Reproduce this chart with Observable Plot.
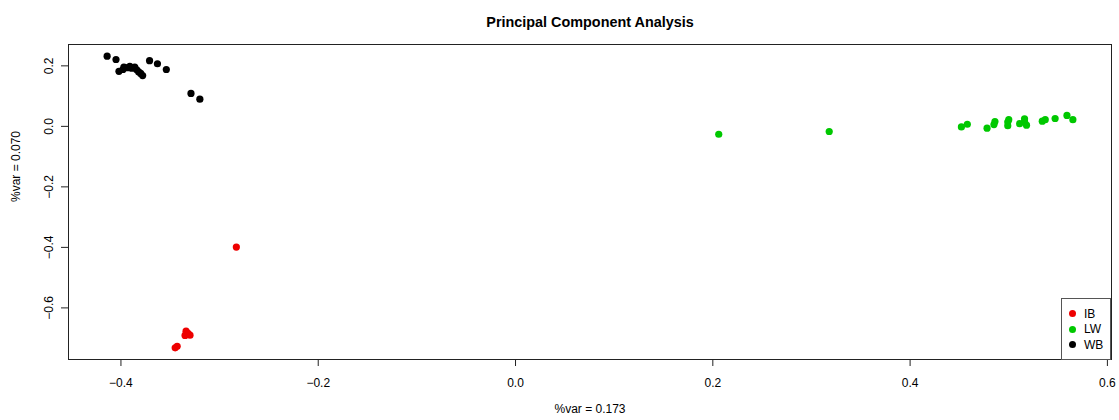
<!DOCTYPE html>
<html>
<head>
<meta charset="utf-8">
<script src="https://cdn.jsdelivr.net/npm/d3@7"></script>
<script src="https://cdn.jsdelivr.net/npm/@observablehq/plot@0.6"></script>
<style>
  body { margin: 0; background: #fff; font-family: "Liberation Sans", Arial, sans-serif; }
  #wrap { position: relative; width: 1119px; height: 420px; }
  .legend { position: absolute; box-sizing: border-box; border: 1px solid #555; background: #fff;
            font-size: 12px; color: #000; padding: 7px 0 0 0; }
  .legend .row { display: flex; align-items: center; height: 15.5px; }
  .legend .sw { width: 7px; height: 7px; border-radius: 50%; margin: 0 8px 0 7px; }
</style>
</head>
<body>
<div id="wrap"></div>
<script>
// Groups and their colours
const groups = ["IB", "LW", "WB"];
const groupColors = ["#ee0000", "#00c800", "#000000"];

// PC1 / PC2 scores per group
const ibPC1 = [-0.283, -0.334, -0.335, -0.330, -0.332, -0.345, -0.343];
const ibPC2 = [-0.399, -0.677, -0.691, -0.690, -0.684, -0.732, -0.727];

const lwPC1 = [0.206, 0.318, 0.452, 0.458, 0.478, 0.485, 0.486, 0.499, 0.499, 0.500, 0.511, 0.516, 0.518, 0.516, 0.534, 0.537, 0.547, 0.559, 0.565];
const lwPC2 = [-0.026, -0.017, -0.002, 0.007, -0.006, 0.006, 0.016, 0.002, 0.014, 0.022, 0.009, 0.025, 0.004, 0.016, 0.017, 0.022, 0.026, 0.036, 0.022];

const wbPC1 = [-0.414, -0.405, -0.371, -0.363, -0.354, -0.402, -0.397, -0.393, -0.389, -0.386, -0.384, -0.382, -0.378, -0.398, -0.391, -0.380, -0.329, -0.320];
const wbPC2 = [0.232, 0.221, 0.217, 0.207, 0.188, 0.182, 0.196, 0.194, 0.192, 0.196, 0.187, 0.180, 0.168, 0.188, 0.198, 0.175, 0.109, 0.090];

// Axis ticks and labels
const xTicks = [-0.4, -0.2, 0.0, 0.2, 0.4, 0.6];
const yTicks = [-0.6, -0.4, -0.2, 0.0, 0.2];
const titleText = "Principal Component Analysis";
const xLabel = "%var = 0.173";
const yLabel = "%var = 0.070";

const scores = [
  ...ibPC1.map((v, i) => ({group: "IB", pc1: v, pc2: ibPC2[i]})),
  ...lwPC1.map((v, i) => ({group: "LW", pc1: v, pc2: lwPC2[i]})),
  ...wbPC1.map((v, i) => ({group: "WB", pc1: v, pc2: wbPC2[i]}))
];

// Extend the data range by 4% on each side
function padded(values) {
  const [a, b] = d3.extent(values);
  const p = (b - a) * 0.04;
  return [a - p, b + p];
}

const W = 1119, H = 420;
const mL = 68, mR = 8, mT = 44, mB = 61;
const fmt = d3.format(".1f");

const chart = Plot.plot({
  width: W,
  height: H,
  marginLeft: mL,
  marginRight: mR,
  marginTop: mT,
  marginBottom: mB,
  style: {fontFamily: "'Liberation Sans', Arial, sans-serif", fontSize: "12px", color: "#000", background: "#fff"},
  x: {domain: padded(scores.map(d => d.pc1))},
  y: {domain: padded(scores.map(d => d.pc2))},
  color: {domain: groups, range: groupColors},
  marks: [
    Plot.frame({stroke: "#222", strokeWidth: 1}),
    Plot.axisX({ticks: xTicks, tickFormat: fmt, tickSize: 7, tickPadding: 12, label: null, stroke: "#222", fontSize: 12}),
    Plot.axisY({ticks: yTicks, tickFormat: fmt, tickSize: 7, tickPadding: 9, tickRotate: -90, label: null, stroke: "#222", fontSize: 12}),
    Plot.dot(scores, {x: "pc1", y: "pc2", fill: "group", r: 3.6, stroke: null}),
    Plot.text([titleText], {frameAnchor: "top", dy: -28, fontWeight: "bold", fontSize: 14.4, text: d => d}),
    Plot.text([xLabel], {frameAnchor: "bottom", dy: 53, fontSize: 12, text: d => d}),
    Plot.text([yLabel], {frameAnchor: "left", dx: -52, rotate: -90, fontSize: 12, text: d => d})
  ]
});

const wrap = document.getElementById("wrap");
wrap.appendChild(chart);

// Legend box in the bottom-right corner of the plotting region
const legend = document.createElement("div");
legend.className = "legend";
const lw = 50, lh = 62;
legend.style.left = (W - mR - lw) + "px";
legend.style.top = (H - mB - lh + 1) + "px";
legend.style.width = lw + "px";
legend.style.height = lh + "px";
groups.forEach((g, i) => {
  const row = document.createElement("div");
  row.className = "row";
  const sw = document.createElement("span");
  sw.className = "sw";
  sw.style.background = groupColors[i];
  const t = document.createElement("span");
  t.textContent = g;
  row.appendChild(sw);
  row.appendChild(t);
  legend.appendChild(row);
});
wrap.appendChild(legend);
</script>
</body>
</html>
